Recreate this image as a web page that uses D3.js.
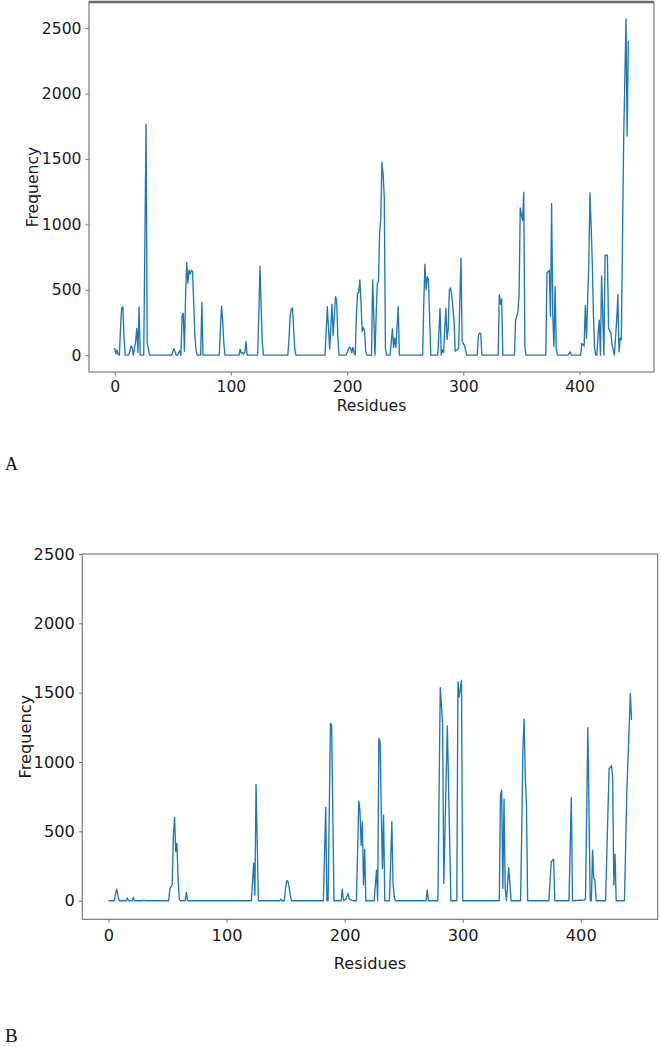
<!DOCTYPE html>
<html>
<head>
<meta charset="utf-8">
<script src="https://cdn.jsdelivr.net/npm/d3@7"></script>
<style>
  html, body { margin: 0; padding: 0; background: #fff; }
  svg { display: block; }
</style>
</head>
<body>
<svg id="chart" width="661" height="1047"></svg>
<script>
// ---------------- DATA ----------------
const xTickValues = [0, 100, 200, 300, 400];
const yTickValues = [0, 500, 1000, 1500, 2000, 2500];
const xAxisTitle = "Residues";
const yAxisTitle = "Frequency";
const panelLetters = ["A", "B"];

// Panel A: residue index and frequency (vertices of the trace)
const residuesA = [0,1,2,3,4,5,6,7,8,9,12,13,14,15,16,18,19,20,21,22,25,27,28,29,30,
  49,51,53,54,56,57,58,59,60,61,62,63,64,65,66,67,68,69,70,71,74,75,76,
  90,91,92,93,94,95,107,108,109,110,111,112,113,114,123,124,125,126,127,128,
  149,150,151,152,153,154,155,156,181,183,185,187,188,189,190,191,192,193,
  199,201,202,203,204,205,206,207,208,209,210,211,212,213,214,215,216,217,
  221,222,224,225,226,227,228,229,230,231,232,233,234,237,239,240,241,242,244,245,
  265,266,267,268,269,270,271,272,278,280,281,282,283,285,286,287,288,289,290,292,293,295,296,298,299,300,301,303,
  312,313,314,315,316,330,331,332,333,334,344,345,347,348,349,350,351,352,353,354,
  371,372,373,374,375,376,377,378,379,380,381,390,392,393,
  401,402,404,405,406,408,409,410,411,412,413,414,415,416,417,418,419,421,422,424,425,427,428,430,
  432,433,434,435,436,437,438,440,441,442];
const frequencyA = [55,10,40,5,0,200,360,370,150,0,0,30,70,60,0,100,205,20,368,0,0,1765,90,50,0,
  0,50,0,0,35,0,300,320,30,450,708,550,650,620,650,640,400,150,40,0,0,405,0,
  0,200,376,250,80,0,0,45,15,20,10,20,105,0,0,300,680,380,100,0,
  0,120,300,350,360,200,40,0,0,370,45,390,150,300,448,420,150,0,
  0,40,62,55,20,60,20,0,300,475,480,575,400,180,210,190,30,0,
  0,575,0,300,550,560,935,1050,1476,1380,1200,50,0,0,200,60,130,60,370,0,
  0,400,696,500,600,580,300,0,0,358,0,40,20,358,120,200,500,515,460,270,30,40,60,742,110,90,75,0,
  0,150,170,165,0,0,463,390,430,0,0,268,330,460,1126,1070,1030,1246,60,0,
  0,628,640,650,295,1159,300,65,525,45,0,0,25,0,
  0,90,70,380,130,700,1240,990,700,300,50,0,0,170,268,0,606,0,765,765,205,170,80,0,
  268,465,25,130,120,900,1650,2571,1675,2404];

// Panel B: residue index and frequency (vertices of the trace)
const residuesB = [0,5,6,7,8,9,15,16,17,20,21,22,29,30,31,
  51,52,54,55,56,57,58,59,60,61,65,66,67,121,123,124,125,127,
  145,146,147,149,150,151,152,153,154,155,182,184,185,186,188,189,191,
  197,198,199,201,203,204,206,207,210,212,213,214,215,216,217,218,
  225,227,228,229,230,232,233,234,238,240,241,242,243,269,270,271,
  279,281,283,284,287,290,295,296,297,299,300,
  331,332,333,334,335,336,337,339,341,349,350,351,352,353,354,355,
  373,375,376,377,378,390,392,393,
  403,404,406,408,409,410,411,412,413,421,424,425,426,427,428,429,430,437,439,442,443];
const frequencyB = [0,0,50,84,40,0,0,20,0,0,24,0,0,5,0,
  0,89,115,474,601,353,414,150,10,0,0,60,0,0,270,40,839,0,
  0,10,0,0,90,145,140,100,40,0,0,673,0,0,1279,1265,0,
  0,84,0,10,53,10,5,0,0,719,650,400,570,113,370,0,
  0,221,0,1171,1148,233,618,0,0,570,120,30,0,0,77,0,
  0,1536,1279,125,1260,0,0,1579,1470,1591,0,
  0,762,798,89,733,90,0,238,0,0,500,1100,1310,900,690,0,
  0,281,290,300,0,0,743,0,
  5,15,1248,0,0,365,160,150,0,0,955,960,975,894,113,335,0,0,786,1495,1303];

// ---------------- DRAWING ----------------
const svg = d3.select("#chart");
const lineColor = "#1f77b4";
const spineColor = "#7a7a7a";
const textColor = "#1a1a1a";

function padExtent(arr) {
  const [lo, hi] = d3.extent(arr);
  const m = (hi - lo) * 0.05;
  return [lo - m, hi + m];
}

function drawPanel(cfg) {
  const g = svg.append("g");
  const x = d3.scaleLinear().domain(padExtent(cfg.xs)).range([cfg.left, cfg.right]);
  const y = d3.scaleLinear().domain(cfg.yDomain).range([cfg.bottom, cfg.top]);

  // frame
  g.append("rect")
    .attr("x", cfg.left).attr("y", cfg.top)
    .attr("width", cfg.right - cfg.left).attr("height", cfg.bottom - cfg.top)
    .attr("fill", "none").attr("stroke", spineColor).attr("stroke-width", 1.2);
  if (cfg.thickTop) {
    g.append("line")
      .attr("x1", cfg.left).attr("x2", cfg.right)
      .attr("y1", cfg.top).attr("y2", cfg.top)
      .attr("stroke", "#6a6a6a").attr("stroke-width", 2.6);
  }

  // y axis
  const ya = g.append("g").attr("transform", `translate(${cfg.left},0)`)
    .call(d3.axisLeft(y).tickValues(yTickValues).tickSize(3.5).tickPadding(4).tickFormat(d3.format("d")));
  ya.select(".domain").remove();
  ya.selectAll("line").attr("stroke", spineColor);
  ya.selectAll("text").attr("font-family", "DejaVu Sans").attr("font-size", cfg.fs).attr("fill", textColor);

  // x axis
  const xa = g.append("g").attr("transform", `translate(0,${cfg.bottom})`)
    .call(d3.axisBottom(x).tickValues(xTickValues).tickSize(3.5).tickPadding(4).tickFormat(d3.format("d")));
  xa.select(".domain").remove();
  xa.selectAll("line").attr("stroke", spineColor);
  xa.selectAll("text").attr("font-family", "DejaVu Sans").attr("font-size", cfg.fs).attr("fill", textColor)
    .attr("dy", null).attr("y", cfg.xTickBaseline - cfg.bottom);

  // line
  const pts = cfg.xs.map((v, i) => [v, cfg.ys[i]]);
  g.append("path")
    .datum(pts)
    .attr("fill", "none")
    .attr("stroke", lineColor)
    .attr("stroke-width", 1.35)
    .attr("stroke-linejoin", "round")
    .attr("d", d3.line().x(d => x(d[0])).y(d => y(d[1])));

  // axis titles
  g.append("text")
    .attr("x", (cfg.left + cfg.right) / 2).attr("y", cfg.xTitleBaseline)
    .attr("text-anchor", "middle")
    .attr("font-family", "DejaVu Sans").attr("font-size", cfg.fs).attr("fill", textColor)
    .text(xAxisTitle);
  g.append("text")
    .attr("transform", `translate(${cfg.yTitleX},${(cfg.top + cfg.bottom) / 2}) rotate(-90)`)
    .attr("text-anchor", "middle").attr("dy", "0.35em")
    .attr("font-family", "DejaVu Sans").attr("font-size", cfg.fs).attr("fill", textColor)
    .text(yAxisTitle);

  // panel letter
  g.append("text")
    .attr("x", 5).attr("y", cfg.letterBaseline)
    .attr("font-family", "Liberation Serif").attr("font-size", cfg.letterSize).attr("fill", "#111")
    .text(cfg.letter);
}

const yDomA = padExtent(frequencyA.concat([0]));
drawPanel({
  xs: residuesA, ys: frequencyA, letter: panelLetters[0],
  left: 89, right: 654, top: 2, bottom: 372,
  yDomain: yDomA, fs: 15.6, thickTop: true,
  xTickBaseline: 392, xTitleBaseline: 411, yTitleX: 33,
  letterBaseline: 470, letterSize: 18
});
drawPanel({
  xs: residuesB, ys: frequencyB, letter: panelLetters[1],
  left: 82.3, right: 657.7, top: 554, bottom: 919.3,
  yDomain: [-134, 2500], fs: 16.2, thickTop: false,
  xTickBaseline: 941, xTitleBaseline: 969, yTitleX: 25,
  letterBaseline: 1042, letterSize: 19
});
</script>
</body>
</html>
